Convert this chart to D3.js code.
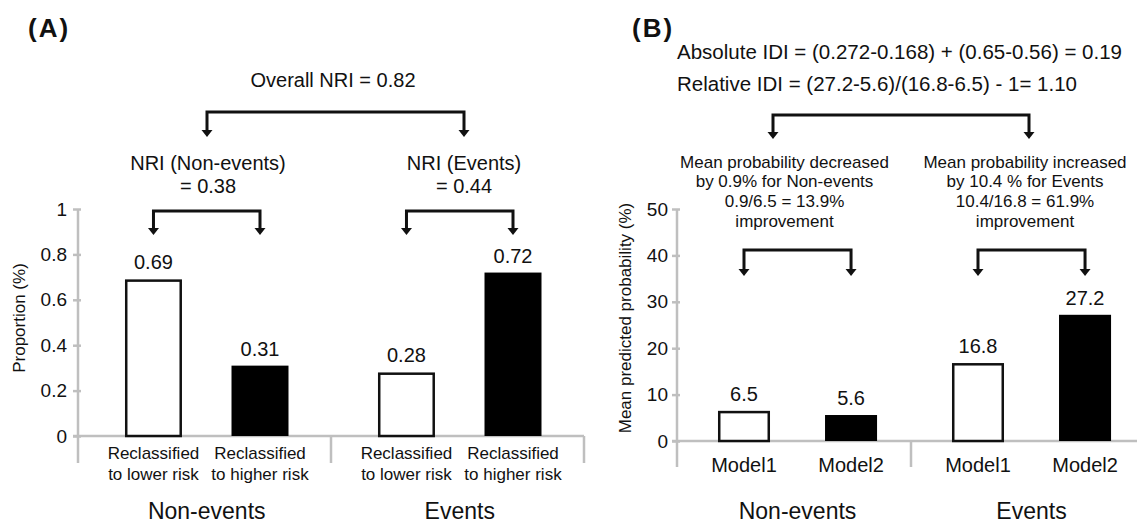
<!DOCTYPE html>
<html>
<head>
<meta charset="utf-8">
<script src="https://cdn.jsdelivr.net/npm/d3@7/dist/d3.min.js"></script>
<style>
  html, body { margin: 0; padding: 0; background: #fff; }
  svg { display: block; }
  text { font-family: "Liberation Sans", Arial, Helvetica, sans-serif; fill: #111; }
</style>
</head>
<body>
<svg id="chart" width="1137" height="524"></svg>
<script>
// ---------------- DATA ----------------
const groups = ["Non-events", "Events"];

// Panel A (NRI)
const nriCategories = [["Reclassified", "to lower risk"], ["Reclassified", "to higher risk"]];
const nriNonEvents = [0.69, 0.31];
const nriEvents = [0.28, 0.72];
const nriTicks = [0, 0.2, 0.4, 0.6, 0.8, 1];
const nriTickLabels = ["0", "0.2", "0.4", "0.6", "0.8", "1"];
const nriYTitle = "Proportion (%)";
const nriOverall = "Overall NRI = 0.82";
const nriGroupNotes = [["NRI (Non-events)", "= 0.38"], ["NRI (Events)", "= 0.44"]];

// Panel B (IDI)
const idiModels = ["Model1", "Model2"];
const idiNonEvents = [6.5, 5.6];
const idiEvents = [16.8, 27.2];
const idiTicks = [0, 10, 20, 30, 40, 50];
const idiTickLabels = ["0", "10", "20", "30", "40", "50"];
const idiYTitle = "Mean predicted probability (%)";
const idiHeader = ["Absolute IDI = (0.272-0.168) + (0.65-0.56) = 0.19",
                   "Relative IDI = (27.2-5.6)/(16.8-6.5) - 1= 1.10"];
const idiGroupNotes = [
  ["Mean probability decreased", "by 0.9% for Non-events", "0.9/6.5 = 13.9%", "improvement"],
  ["Mean probability increased", "by 10.4 % for Events", "10.4/16.8 = 61.9%", "improvement"]
];

const valueFormatA = d3.format(".2f");
const valueFormatB = d3.format(".1f");

// ---------------- LAYOUT ----------------
const svg = d3.select("#chart");
const AXIS_GRAY = "#bfbfbf";
const INK = "#111";

function bracket(g, x1, x2, top, tip) {
  g.append("path")
    .attr("d", `M${x1},${tip - 6} V${top} H${x2} V${tip - 6}`)
    .attr("fill", "none").attr("stroke", INK).attr("stroke-width", 3)
    .attr("stroke-linejoin", "miter");
  [x1, x2].forEach(x => {
    g.append("path")
      .attr("d", `M${x - 5.5},${tip - 7} L${x + 5.5},${tip - 7} L${x},${tip} Z`)
      .attr("fill", INK);
  });
}

function panel(cfg) {
  const g = svg.append("g");
  const y = d3.scaleLinear().domain(cfg.yDomain).range([cfg.y0, cfg.y1]);
  const xg = d3.scaleBand().domain(groups).range([cfg.axisX, cfg.axisX + 2 * cfg.groupW])
    .paddingInner(0).paddingOuter(0);
  const xi = d3.scaleBand().domain(d3.range(2)).range([0, cfg.groupW])
    .paddingInner(cfg.padInner).paddingOuter(cfg.padOuter).align(cfg.align);

  // y axis (ticks + labels)
  const axis = d3.axisLeft(y).tickValues(cfg.ticks)
    .tickFormat((d, i) => cfg.tickLabels[i]).tickSize(5).tickPadding(cfg.tickPad);
  const ag = g.append("g").attr("transform", `translate(${cfg.axisX},0)`).call(axis);
  ag.select(".domain").remove();
  ag.selectAll(".tick line").attr("stroke", AXIS_GRAY).attr("stroke-width", 2.5)
    .attr("x1", 3).attr("x2", -5);
  ag.selectAll(".tick text").attr("fill", INK).style("font-size", "19px")
    .style("font-family", "'Liberation Sans', Arial, sans-serif");

  // axis vertical line
  g.append("line").attr("x1", cfg.axisX).attr("x2", cfg.axisX)
    .attr("y1", y(cfg.yDomain[1])).attr("y2", cfg.catBottom)
    .attr("stroke", AXIS_GRAY).attr("stroke-width", 2.5);
  // baseline
  g.append("line").attr("x1", cfg.axisX - 5).attr("x2", cfg.axisX + 2 * cfg.groupW)
    .attr("y1", y(0)).attr("y2", y(0)).attr("stroke", AXIS_GRAY).attr("stroke-width", 2.5);
  // group separators
  groups.forEach(gr => {
    const xe = xg(gr) + xg.bandwidth();
    g.append("line").attr("x1", xe).attr("x2", xe).attr("y1", y(0)).attr("y2", cfg.catBottom)
      .attr("stroke", AXIS_GRAY).attr("stroke-width", 2.5);
  });

  // y title
  g.append("text")
    .attr("transform", `translate(${cfg.titleX},${cfg.titleY}) rotate(-90)`)
    .attr("text-anchor", "middle").style("font-size", "17px").text(cfg.yTitle);

  // bars
  const series = [cfg.valuesNon, cfg.valuesEv];
  const centers = [];
  groups.forEach((gr, gi) => {
    const vals = series[gi];
    const cs = [];
    vals.forEach((v, i) => {
      const x = xg(gr) + xi(i);
      const w = xi.bandwidth();
      cs.push(x + w / 2);
      if (i === 0) {
        g.append("rect").attr("x", x + 1.25).attr("y", y(v) + 1.25)
          .attr("width", w - 2.5).attr("height", y(0) - y(v) - 1.25)
          .attr("fill", "#fff").attr("stroke", INK).attr("stroke-width", 2.5);
      } else {
        g.append("rect").attr("x", x).attr("y", y(v))
          .attr("width", w).attr("height", y(0) - y(v)).attr("fill", "#000");
      }
      g.append("text").attr("x", x + w / 2).attr("y", y(v) - 10)
        .attr("text-anchor", "middle").style("font-size", "20px").text(cfg.fmt(v));
      // category label
      const lines = cfg.catLabels[i];
      lines.forEach((ln, li) => {
        g.append("text").attr("x", x + w / 2).attr("y", cfg.catY + li * cfg.catLH)
          .attr("text-anchor", "middle").style("font-size", cfg.catFont).text(ln);
      });
    });
    centers.push(cs);
    // group label
    g.append("text").attr("x", (cs[0] + cs[1]) / 2).attr("y", 519)
      .attr("text-anchor", "middle").style("font-size", "23px").text(gr);
  });
  return { g, centers };
}

// ---------------- PANEL A ----------------
const A = panel({
  yDomain: [0, 1], y0: 436, y1: 209, axisX: 78, groupW: 253,
  padInner: 0.465, padOuter: 0.42, align: 0.525, tickPad: 6,
  ticks: nriTicks, tickLabels: nriTickLabels, catBottom: 463,
  titleX: 25, titleY: 318, yTitle: nriYTitle,
  valuesNon: nriNonEvents, valuesEv: nriEvents, fmt: valueFormatA,
  catLabels: nriCategories, catY: 459, catLH: 21, catFont: "17px"
});

svg.append("text").attr("x", 28).attr("y", 37).style("font-size", "26px")
  .style("font-weight", "bold").style("letter-spacing", "2px").text("(A)");
svg.append("text").attr("x", 333).attr("y", 87).attr("text-anchor", "middle")
  .style("font-size", "20px").text(nriOverall);
bracket(A.g, 207, 464, 112, 137);
nriGroupNotes.forEach((lines, gi) => {
  const cx = gi === 0 ? 208 : 464;
  lines.forEach((ln, li) => {
    A.g.append("text").attr("x", cx).attr("y", 170 + li * 23).attr("text-anchor", "middle")
      .style("font-size", "20px").text(ln);
  });
  bracket(A.g, A.centers[gi][0], A.centers[gi][1], 211, 235);
});

// ---------------- PANEL B ----------------
const B = panel({
  yDomain: [0, 50], y0: 441, y1: 209, axisX: 677, groupW: 234,
  padInner: 0.514, padOuter: 0.35, align: 0.547, tickPad: 4,
  ticks: idiTicks, tickLabels: idiTickLabels, catBottom: 467,
  titleX: 631, titleY: 318, yTitle: idiYTitle,
  valuesNon: idiNonEvents, valuesEv: idiEvents, fmt: valueFormatB,
  catLabels: idiModels.map(m => [m]), catY: 471.5, catLH: 0, catFont: "20px"
});

svg.append("text").attr("x", 632).attr("y", 37).style("font-size", "26px")
  .style("font-weight", "bold").style("letter-spacing", "2px").text("(B)");
idiHeader.forEach((ln, i) => {
  svg.append("text").attr("x", 677).attr("y", 59 + i * 32)
    .style("font-size", "20.5px").text(ln);
});
bracket(B.g, 773, 1029, 115, 139);
idiGroupNotes.forEach((lines, gi) => {
  const cx = gi === 0 ? 784.5 : 1025;
  lines.forEach((ln, li) => {
    B.g.append("text").attr("x", cx).attr("y", 167.5 + li * 19.7).attr("text-anchor", "middle")
      .style("font-size", "17px").text(ln);
  });
  bracket(B.g, B.centers[gi][0], B.centers[gi][1], 250, 276);
});
</script>
</body>
</html>
